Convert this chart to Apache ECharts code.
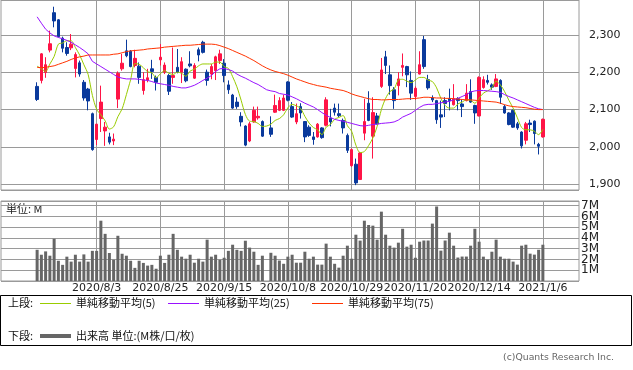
<!DOCTYPE html>
<html><head><meta charset="utf-8">
<script src="https://cdn.jsdelivr.net/npm/echarts@6/dist/echarts.min.js"></script>
<style>html,body{margin:0;padding:0;background:#fff}#c{width:633px;height:370px}</style>
</head><body><div id="c"></div>
<script>
const dates = ['2020/7/10','2020/7/13','2020/7/14','2020/7/15','2020/7/16','2020/7/17','2020/7/20','2020/7/21','2020/7/22','2020/7/27','2020/7/28','2020/7/29','2020/7/30','2020/7/31',
'2020/8/3','2020/8/4','2020/8/5','2020/8/6','2020/8/7','2020/8/11','2020/8/12','2020/8/13','2020/8/14','2020/8/17','2020/8/18','2020/8/19','2020/8/20','2020/8/21','2020/8/24','2020/8/25','2020/8/26','2020/8/27','2020/8/28','2020/8/31',
'2020/9/1','2020/9/2','2020/9/3','2020/9/4','2020/9/7','2020/9/8','2020/9/9','2020/9/10','2020/9/11','2020/9/14','2020/9/15','2020/9/16','2020/9/17','2020/9/18','2020/9/23','2020/9/24','2020/9/25','2020/9/28','2020/9/29','2020/9/30',
'2020/10/1','2020/10/2','2020/10/5','2020/10/6','2020/10/7','2020/10/8','2020/10/9','2020/10/12','2020/10/13','2020/10/14','2020/10/15','2020/10/16','2020/10/19','2020/10/20','2020/10/21','2020/10/22','2020/10/23','2020/10/26','2020/10/27','2020/10/28','2020/10/29','2020/10/30',
'2020/11/2','2020/11/4','2020/11/5','2020/11/6','2020/11/9','2020/11/10','2020/11/11','2020/11/12','2020/11/13','2020/11/16','2020/11/17','2020/11/18','2020/11/19','2020/11/20','2020/11/24','2020/11/25','2020/11/26','2020/11/27','2020/11/30',
'2020/12/1','2020/12/2','2020/12/3','2020/12/4','2020/12/7','2020/12/8','2020/12/9','2020/12/10','2020/12/11','2020/12/14','2020/12/15','2020/12/16','2020/12/17','2020/12/18','2020/12/21','2020/12/22','2020/12/23','2020/12/24','2020/12/25','2020/12/28','2020/12/29','2020/12/30',
'2021/1/4','2021/1/5','2021/1/6'];

const tickLabels = ['2020/8/3','2020/8/25','2020/9/15','2020/10/8','2020/10/29','2020/11/20','2020/12/14','2021/1/6'];

const opens = [2162,2178,2199,2259,2359,2340,2291,2266,2265,2210,
 2225,2173,2155,2089,2020,2076,2043,2027,2016,2128,
 2209,2257,2256,2218,2216,2151,2179,2209,2186,2233,
 2200,2191,2186,2213,2200,2208,2222,2184,2260,2280,
 2200,2195,2204,2231,2224,2166,2139,2120,2082,2056,
 2016,2067,2078,2068,null,2051,2093,2098,2098,2174,
 2108,2067,2108,2068,2053,2027,2027,2051,2058,2077,
 2104,2089,2071,2031,1950,1954,1913,2037,2117,2029,
 2083,2162,2241,2193,2153,2164,2213,2215,2178,2135,
 2195,2287,2180,2131,2124,2086,2124,2129,2113,2129,
 2115,2124,2148,2111,2083,2159,2178,2166,2162,2178,
 2108,2091,2098,2062,2040,2018,2064,2069,2007,2027];

const closes = [2127,2249,2220,2276,2337,2295,2264,2250,2275,2247,
 2195,2131,2123,1993,2061,2120,2053,2013,2021,2197,
 2224,2244,2215,2237,2186,2180,2185,2202,2173,2240,
 2219,2149,2191,2200,2228,2177,2217,2218,2246,2253,
 2178,2215,2241,2249,2191,2153,2104,2108,2067,2005,
 2062,2098,2082,2029,null,2034,2111,2124,2131,2125,
 2080,2089,2091,2027,2031,2020,2061,2025,2126,2067,
 2093,2084,2051,1991,1993,1904,1984,2068,2071,2092,
 2062,2206,2218,2164,2124,2182,2218,2193,2144,2157,
 2220,2215,2158,2126,2073,2080,2116,2124,2129,2124,
 2108,2144,2120,2091,2186,2180,2173,2160,2182,2133,
 2091,2060,2053,2051,2003,2062,2060,2036,2002,2074];

const lows = [2123,2170,2185,2253,2320,2293,2253,2244,2259,2186,
 2188,2124,2098,1990,2005,2040,2003,2007,2005,2104,
 2204,2240,2213,2213,2169,2140,2173,2182,2151,2218,
 2195,2139,2169,2197,2171,2173,2213,2182,2229,2250,
 2164,2181,2179,2222,2173,2142,2102,2102,2055,2002,
 2013,2065,2073,2027,null,2027,2091,2096,2096,2122,
 2078,2061,2076,2013,2027,2006,2025,2022,2055,2055,
 2084,2080,2036,1984,1947,1898,1912,2018,2069,1969,
 2060,2158,2195,2140,2102,2138,2189,2160,2126,2126,
 2194,2209,2153,2120,2062,2051,2080,2098,2111,2098,
 2080,2122,2118,2062,2082,2156,2167,2153,2160,2115,
 2089,2058,2051,2046,1996,2007,2040,2007,1980,2025];

const highs = [2173,2251,2240,2311,2375,2342,2295,2280,2302,2253,
 2231,2179,2158,2092,2062,2164,2067,2038,2036,2202,
 2249,2287,2259,2260,2226,2200,2209,2233,2191,2275,
 2226,2195,2266,2262,2240,2210,2256,2224,2266,2284,
 2207,2222,2244,2260,2235,2178,2142,2133,2093,2058,
 2067,2108,2108,2071,null,2082,2140,2133,2140,2176,
 2120,2116,2117,2069,2058,2040,2064,2053,2133,2102,
 2116,2116,2076,2036,1996,1969,1987,2129,2149,2133,
 2091,2238,2257,2218,2160,2200,2250,2217,2202,2162,
 2256,2297,2193,2138,2126,2124,2133,2156,2168,2133,
 2126,2168,2181,2113,2189,2189,2193,2170,2195,2181,
 2113,2093,2100,2067,2042,2067,2073,2071,2011,2076];

const ma5 = [2216,2209,2202,2222,2242,2275,2278,2284,2284,2266,
 2246,2220,2194,2138,2101,2086,2070,2048,2054,2081,
 2102,2140,2180,2223,2221,2212,2201,2198,2185,2196,
 2204,2197,2194,2200,2197,2189,2203,2208,2217,2222,
 2222,2222,2227,2227,2215,2210,2188,2161,2125,2087,
 2069,2068,2063,2055,2056,2061,2071,2076,2086,2105,
 2114,2110,2103,2082,2064,2052,2046,2033,2053,2060,
 2074,2079,2084,2057,2042,2005,1985,1988,2004,2024,
 2055,2100,2130,2148,2155,2179,2181,2176,2172,2179,
 2186,2186,2179,2175,2158,2130,2111,2104,2104,2115,
 2120,2126,2125,2117,2130,2144,2150,2158,2176,2166,
 2148,2125,2104,2078,2052,2046,2046,2042,2033,2047];

const ma25 = [2348,2331,2315,2305,2297,2293,2289,2285,2280,2273,
 2266,2258,2249,2229,2222,2215,2208,2201,2194,2187,
 2184,2182,2182,2182,2181,2179,2178,2175,2171,2169,
 2167,2165,2162,2160,2158,2158,2161,2165,2171,2178,
 2184,2191,2202,2209,2210,2207,2203,2195,2189,2184,
 2178,2172,2167,2160,2153,2150,2148,2143,2141,2139,
 2134,2129,2123,2117,2112,2107,2100,2092,2085,2079,
 2074,2071,2069,2066,2063,2060,2057,2056,2058,2060,
 2061,2063,2064,2065,2067,2072,2080,2085,2090,2098,
 2106,2112,2114,2114,2116,2118,2120,2122,2126,2130,
 2135,2140,2147,2150,2151,2151,2150,2149,2148,2146,
 2140,2135,2131,2126,2121,2116,2111,2106,2102,2100];

const ma75 = [2213,2212,2213,2215,2217,2221,2225,2229,2234,2238,
 2241,2243,2246,2246,2246,2246,2246,2246,2248,2249,
 2252,2255,2257,2258,2259,2260,2262,2263,2264,2265,
 2267,2268,2269,2270,2271,2272,2272,2273,2274,2275,
 2275,2275,2274,2271,2267,2263,2258,2253,2248,2243,
 2237,2231,2224,2217,2211,2206,2202,2199,2196,2192,
 2187,2182,2178,2174,2170,2167,2164,2162,2160,2157,
 2155,2153,2151,2147,2142,2138,2135,2132,2129,2127,
 2127,2126,2126,2127,2127,2127,2128,2129,2129,2130,
 2131,2133,2133,2132,2131,2131,2130,2130,2129,2128,
 2127,2126,2126,2125,2124,2123,2122,2121,2120,2117,
 2113,2110,2108,2107,2106,2105,2103,2101,2100,2100];

const volume = [2.9,2.44,2.75,2.35,3.92,1.88,1.5,2.26,1.8,2.44,
 1.8,2.47,1.8,2.8,2.8,5.6,4.38,2.6,1.97,4.2,
 2.53,2.35,1.88,1.22,1.88,1.68,1.43,1.5,1.14,2.35,
 1.68,2.44,4.38,2.9,2.26,2.07,2.44,1.7,2.07,1.8,
 3.84,2.26,2.44,1.97,2.16,2.8,3.37,2.9,2.8,3.74,
 3.1,2.72,1.5,2.35,null,2.62,2.35,1.9,1.6,2.26,
 2.44,1.7,1.7,2.72,2.07,2.26,1.52,1.52,3.47,2.26,
 1.6,1.24,2.35,3.28,2.07,4.3,3.75,5.6,5.2,5.14,
 3.84,6.44,4.3,3.28,3.1,3.56,4.85,3.19,3.37,2.16,
 3.65,3.76,3.76,5.33,6.92,2.82,3.76,4.49,3.28,2.18,
 2.27,2.27,3.28,4.85,3.65,2.26,1.99,2.72,3.84,2.26,
 2.07,2.07,1.8,1.52,3.28,3.37,2.54,2.45,2.9,3.37];

// ---- build library structures ----
const PAD_L = 8, PAD_R = 8;
const cats = [];
for (let k = 0; k < PAD_L; k++) cats.push('padL' + k);
dates.forEach(d => cats.push(d));
for (let k = 0; k < PAD_R; k++) cats.push('padR' + k);
const pad = arr => [].concat(Array(PAD_L).fill('-'), arr.map(v => v == null ? '-' : v), Array(PAD_R).fill('-'));
const candleData = [].concat(Array(PAD_L).fill(['-','-','-','-']),
  dates.map((d, i) => opens[i] == null ? ['-','-','-','-'] : [opens[i], closes[i], lows[i], highs[i]]),
  Array(PAD_R).fill(['-','-','-','-']));
const tickSet = new Set(tickLabels.map(t => PAD_L + dates.indexOf(t)));
const isTick = (idx) => tickSet.has(idx);

const UP = '#ff1446', DOWN = '#0a3a9c', GRID = '#9a9a9a';
const NUMF = '"DejaVu Sans", sans-serif';
const JPF = '"Noto Sans CJK JP", sans-serif';

const chart = echarts.init(document.getElementById('c'));
chart.setOption({
  animation: false,
  backgroundColor: '#fff',
  grid: [
    { left: 1, right: 54, top: -1, height: 191, show: true, borderColor: GRID, borderWidth: 1, backgroundColor: 'transparent' },
    { left: 1, right: 54, top: 201, height: 80, show: true, borderColor: GRID, borderWidth: 1, backgroundColor: 'transparent' }
  ],
  xAxis: [
    { type: 'category', gridIndex: 0, data: cats, boundaryGap: true,
      axisLine: { show: false }, axisTick: { show: false }, axisLabel: { show: false },
      splitLine: { show: true, alignWithLabel: true, interval: isTick, lineStyle: { color: GRID, width: 1 } } },
    { type: 'category', gridIndex: 1, data: cats, boundaryGap: true,
      axisLine: { show: false }, axisTick: { show: false },
      axisLabel: { show: true, interval: isTick, color: '#222', fontSize: 11, fontFamily: NUMF, margin: 2 },
      splitLine: { show: true, alignWithLabel: true, interval: isTick, lineStyle: { color: GRID, width: 1 } } }
  ],
  yAxis: [
    { type: 'value', gridIndex: 0, position: 'right', min: 1885, max: 2393, splitNumber: 5,
      axisLine: { show: false }, axisTick: { show: false },
      axisLabel: { margin: 10, color: '#222', fontSize: 11, fontFamily: NUMF,
        formatter: v => (Math.abs(v % 100) < 1e-6 ? v.toLocaleString('en-US') : '') },
      splitLine: { show: true, lineStyle: { color: GRID, width: 1 } } },
    { type: 'value', gridIndex: 1, position: 'right', min: 0, max: 7.43, splitNumber: 7,
      axisLine: { show: false }, axisTick: { show: false },
      axisLabel: { margin: 2, color: '#222', fontSize: 12, fontFamily: NUMF,
        formatter: v => (v > 0 && Math.abs(v - Math.round(v)) < 1e-6 ? Math.round(v) + 'M' : '') },
      splitLine: { show: true, lineStyle: { color: GRID, width: 1 } } }
  ],
  series: [
    { type: 'candlestick', xAxisIndex: 0, yAxisIndex: 0, data: candleData, barWidth: 3,
      itemStyle: { color: UP, color0: DOWN, borderColor: UP, borderColor0: DOWN, borderWidth: 1 }, z: 2 },
    { type: 'line', xAxisIndex: 0, yAxisIndex: 0, data: pad(ma5), symbol: 'none', smooth: 0.3,
      lineStyle: { color: '#99cc00', width: 1 }, z: 3 },
    { type: 'line', xAxisIndex: 0, yAxisIndex: 0, data: pad(ma25), symbol: 'none',
      lineStyle: { color: '#9911ff', width: 1 }, z: 3 },
    { type: 'line', xAxisIndex: 0, yAxisIndex: 0, data: pad(ma75), symbol: 'none',
      lineStyle: { color: '#ff3300', width: 1 }, z: 3 },
    { type: 'bar', xAxisIndex: 1, yAxisIndex: 1, data: pad(volume), barWidth: 3,
      itemStyle: { color: '#666666' } }
  ],
  graphic: [
    { type: 'text', x: 6, y: 209, style: { text: '単位: M', font: '11px ' + JPF, fill: '#222', verticalAlign: 'middle' } },
    { type: 'rect', shape: { x: 0.5, y: 295.5, width: 631, height: 50 }, style: { fill: 'none', stroke: '#000', lineWidth: 1 } },
    { type: 'text', x: 8, y: 303, style: { text: '上段:', font: '11px ' + JPF, fill: '#111', verticalAlign: 'middle' } },
    { type: 'line', shape: { x1: 40, y1: 303.5, x2: 71, y2: 303.5 }, style: { stroke: '#99cc00', lineWidth: 1 } },
    { type: 'text', x: 76, y: 303, style: { text: '単純移動平均(5)', font: '11px ' + JPF, fill: '#111', verticalAlign: 'middle' } },
    { type: 'line', shape: { x1: 168, y1: 303.5, x2: 199, y2: 303.5 }, style: { stroke: '#9911ff', lineWidth: 1 } },
    { type: 'text', x: 204, y: 303, style: { text: '単純移動平均(25)', font: '11px ' + JPF, fill: '#111', verticalAlign: 'middle' } },
    { type: 'line', shape: { x1: 312, y1: 303.5, x2: 343, y2: 303.5 }, style: { stroke: '#ff3300', lineWidth: 1 } },
    { type: 'text', x: 348, y: 303, style: { text: '単純移動平均(75)', font: '11px ' + JPF, fill: '#111', verticalAlign: 'middle' } },
    { type: 'text', x: 8, y: 336, style: { text: '下段:', font: '11px ' + JPF, fill: '#111', verticalAlign: 'middle' } },
    { type: 'line', shape: { x1: 40, y1: 336, x2: 71, y2: 336 }, style: { stroke: '#666666', lineWidth: 4 } },
    { type: 'text', x: 76, y: 336, style: { text: '出来高 単位:(M株/口/枚)', font: '11px ' + JPF, fill: '#111', verticalAlign: 'middle' } },
    { type: 'text', x: 614, y: 358, style: { text: '(c)Quants Research Inc.', font: '9.3px ' + NUMF, fill: '#666', align: 'right', verticalAlign: 'middle' } }
  ]
});
</script>
</body></html>
